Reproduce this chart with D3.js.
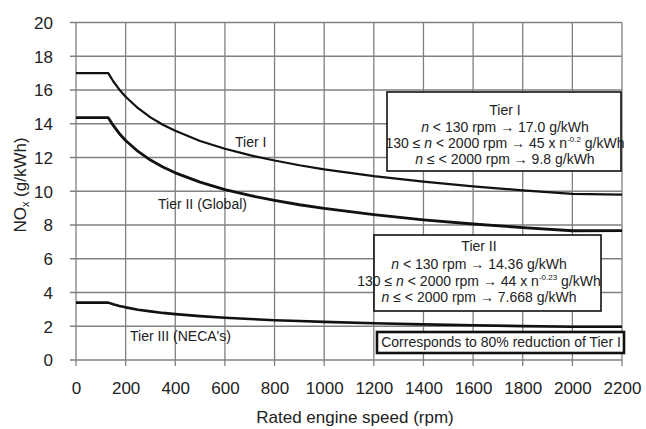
<!DOCTYPE html>
<html><head><meta charset="utf-8">
<script src="https://cdn.jsdelivr.net/npm/d3@7"></script>
<style>
html,body{margin:0;padding:0;background:#fff;}
svg{display:block;font-family:"Liberation Sans",Arial,sans-serif;}
</style></head>
<body><svg id="c" width="646" height="429"></svg>
<script>
const rpm   = [0,130,150,175,200,250,300,350,400,500,600,700,800,900,1000,1200,1400,1600,1800,2000,2200];
const tier1 = [17.0,17.0,16.52,16.02,15.60,14.92,14.38,13.94,13.58,12.98,12.52,12.14,11.82,11.54,11.30,10.90,10.57,10.29,10.05,9.84,9.8];
const tier2 = [14.36,14.36,13.90,13.41,13.01,12.36,11.85,11.44,11.09,10.54,10.10,9.75,9.46,9.20,8.98,8.62,8.31,8.06,7.85,7.66,7.668];
const tier3 = [3.40,3.40,3.30,3.20,3.12,2.98,2.88,2.79,2.72,2.60,2.50,2.43,2.36,2.31,2.26,2.18,2.11,2.06,2.01,1.97,1.97];
const xTicks = [0,200,400,600,800,1000,1200,1400,1600,1800,2000,2200];
const yTicks = [0,2,4,6,8,10,12,14,16,18,20];
const seriesNames = ["Tier I","Tier II (Global)","Tier III (NECA's)"];

const svg = d3.select("#c");
const x = d3.scaleLinear().domain([0,2200]).range([76,622]);
const y = d3.scaleLinear().domain([0,20]).range([360,22.5]);
const grid = "#808080";

// grid
const g = svg.append("g");
g.selectAll("line.h").data(yTicks).join("line")
  .attr("x1",70).attr("x2",x(2200)).attr("y1",d=>y(d)).attr("y2",d=>y(d))
  .attr("stroke",grid).attr("stroke-width",1.3);
g.selectAll("line.v").data(xTicks).join("line")
  .attr("x1",d=>x(d)).attr("x2",d=>x(d)).attr("y1",y(20)).attr("y2",366)
  .attr("stroke",grid).attr("stroke-width",1.3);

// axes labels
const yAxis = d3.axisLeft(y).tickValues(yTicks).tickSize(0).tickPadding(0);
const ya = svg.append("g").attr("transform","translate(53,0)").call(yAxis);
ya.select(".domain").remove();
ya.selectAll("text").attr("font-size",17).attr("fill","#222").attr("font-family","Liberation Sans, Arial, sans-serif").attr("dy","0.35em").attr("x",0);

const xAxis = d3.axisBottom(x).tickValues(xTicks).tickSize(0).tickPadding(0).tickFormat(d3.format("d"));
const xa = svg.append("g").attr("transform","translate(0,382)").call(xAxis);
xa.select(".domain").remove();
xa.selectAll("text").attr("font-size",17).attr("fill","#222").attr("font-family","Liberation Sans, Arial, sans-serif").attr("dy","0.35em").attr("y",6);

svg.append("text").attr("x",355).attr("y",419).attr("text-anchor","middle")
  .attr("dominant-baseline","middle").attr("font-size",17).attr("fill","#222")
  .text("Rated engine speed (rpm)");
const yt = svg.append("text").attr("transform","translate(22,185) rotate(-90)")
  .attr("text-anchor","middle").attr("dominant-baseline","middle").attr("font-size",17).attr("fill","#222");
yt.append("tspan").text("NO");
yt.append("tspan").attr("font-size",11).attr("dy",4).text("x");
yt.append("tspan").attr("dy",-4).text(" (g/kWh)");

// curves
const line = d3.line().x(d=>x(d[0])).y(d=>y(d[1]));
[[tier1,2.2],[tier2,2.8],[tier3,2.6]].forEach(([vals,w])=>{
  svg.append("path").datum(rpm.map((r,i)=>[r,vals[i]]))
    .attr("d",line).attr("fill","none").attr("stroke","#111").attr("stroke-width",w)
    .attr("stroke-linejoin","round");
});

// curve labels
const lbl = [[seriesNames[0],235,143],[seriesNames[1],158,205],[seriesNames[2],130,337]];
lbl.forEach(([t,lx,ly])=>svg.append("text").attr("x",lx).attr("y",ly)
  .attr("dominant-baseline","middle").attr("font-size",14).attr("fill","#222").text(t));

// boxes
function box(x0,y0,x1,y1,sw){
  svg.append("rect").attr("x",x0).attr("y",y0).attr("width",x1-x0).attr("height",y1-y0)
    .attr("fill","#fff").attr("stroke","#111").attr("stroke-width",sw);
}
function boxText(cx,cy,parts){
  const t = svg.append("text").attr("x",cx).attr("y",cy).attr("text-anchor","middle")
    .attr("dominant-baseline","middle").attr("font-size",14).attr("fill","#222");
  parts.forEach(p=>{
    const s = t.append("tspan").text(p.t);
    if(p.i) s.attr("font-style","italic");
    if(p.sup) s.attr("font-size",8).attr("baseline-shift","super");
  });
}
box(387,92,621,171,1.6);
boxText(505,111,[{t:"Tier I"}]);
boxText(505,128,[{t:"n",i:1},{t:" < 130 rpm \u2192 17.0 g/kWh"}]);
boxText(505,144,[{t:"130 \u2264 "},{t:"n",i:1},{t:" < 2000 rpm \u2192 45 x n"},{t:"-0.2",sup:1},{t:" g/kWh"}]);
boxText(505,160,[{t:"n",i:1},{t:" \u2264 < 2000 rpm \u2192 9.8 g/kWh"}]);

box(374,235,601,311,1.6);
boxText(479,247,[{t:"Tier II"}]);
boxText(479,265,[{t:"n",i:1},{t:" < 130 rpm \u2192 14.36 g/kWh"}]);
boxText(479,282,[{t:"130 \u2264 "},{t:"n",i:1},{t:" < 2000 rpm \u2192 44 x n"},{t:"-0.23",sup:1},{t:" g/kWh"}]);
boxText(479,298,[{t:"n",i:1},{t:" \u2264 < 2000 rpm \u2192 7.668 g/kWh"}]);

box(377,332,624,353,2.6);
boxText(501,342.5,[{t:"Corresponds to 80% reduction of Tier I"}]);
</script></body></html>
